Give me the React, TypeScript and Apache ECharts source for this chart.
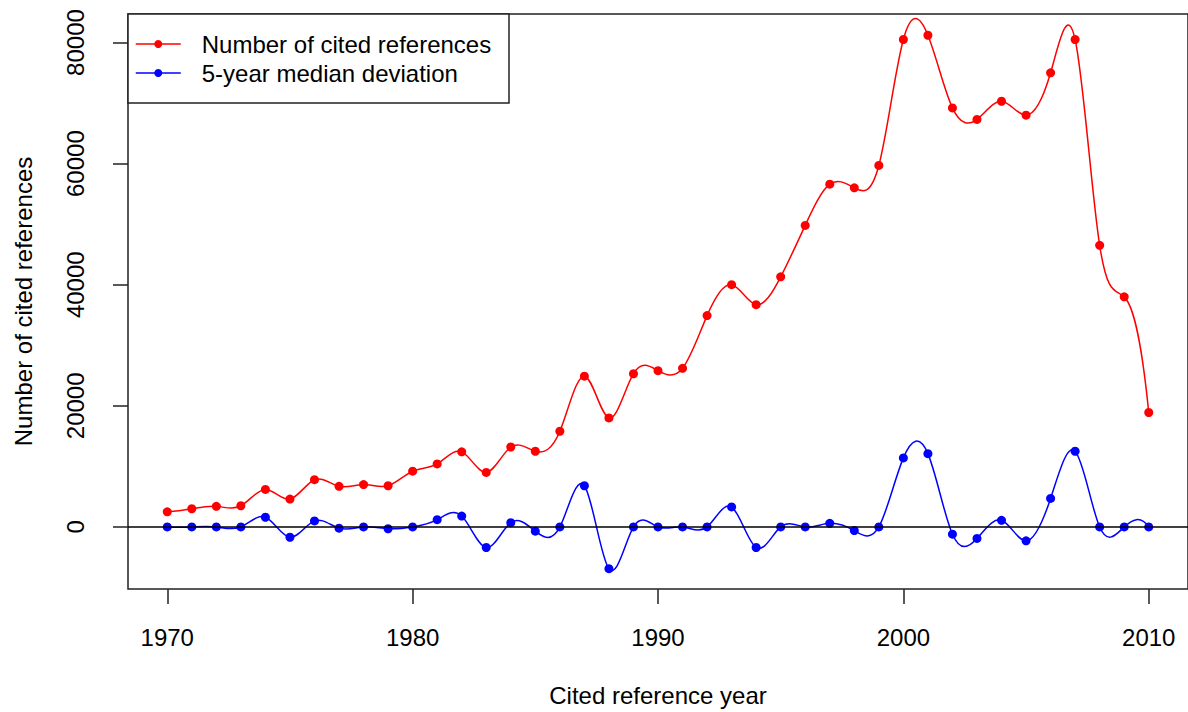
import React, { useEffect, useRef } from "react";
import * as echarts from "echarts";

const years = [
  1970, 1971, 1972, 1973, 1974, 1975, 1976, 1977, 1978, 1979,
  1980, 1981, 1982, 1983, 1984, 1985, 1986, 1987, 1988, 1989,
  1990, 1991, 1992, 1993, 1994, 1995, 1996, 1997, 1998, 1999,
  2000, 2001, 2002, 2003, 2004, 2005, 2006, 2007, 2008, 2009, 2010,
];

const citedRefs = [
  2500, 3000, 3400, 3500, 6200, 4600, 7800, 6700, 7000, 6800,
  9200, 10400, 12400, 9000, 13200, 12500, 15800, 24900, 18000, 25300,
  25800, 26200, 34900, 40000, 36700, 41300, 49800, 56600, 56000, 59700,
  80500, 81200, 69200, 67300, 70300, 68000, 75000, 80500, 46500, 38000, 18900,
];

const medianDeviation = [
  0, 0, 0, 0, 1600, -1700, 1000, -200, 0, -300,
  0, 1200, 1800, -3400, 700, -700, 0, 6800, -6900, 0,
  0, 0, 0, 3300, -3400, 0, 0, 600, -600, 0,
  11400, 12100, -1200, -1900, 1100, -2300, 4700, 12500, 0, 0, 0,
];

const xTicks = [1970, 1980, 1990, 2000, 2010];
const yTicks = [0, 20000, 40000, 60000, 80000];
const seriesNames = ["Number of cited references", "5-year median deviation"];
const seriesColors = ["#ff0000", "#0000ff"];
const xTitle = "Cited reference year";
const yTitle = "Number of cited references";

// First derivatives of an FMM cubic spline (as in R's spline()) through (x, y).
function splineSlopes(x: number[], y: number[]): number[] {
  const n = x.length;
  const nm1 = n - 1;
  const b = new Array(n).fill(0);
  const c = new Array(n).fill(0);
  const d = new Array(n).fill(0);
  d[0] = x[1] - x[0];
  c[1] = (y[1] - y[0]) / d[0];
  for (let i = 1; i < nm1; i++) {
    d[i] = x[i + 1] - x[i];
    b[i] = 2 * (d[i - 1] + d[i]);
    c[i + 1] = (y[i + 1] - y[i]) / d[i];
    c[i] = c[i + 1] - c[i];
  }
  b[0] = -d[0];
  b[nm1] = -d[n - 2];
  c[0] = 0;
  c[nm1] = 0;
  if (n > 3) {
    c[0] = c[2] / (x[3] - x[1]) - c[1] / (x[2] - x[0]);
    c[nm1] = c[n - 2] / (x[nm1] - x[n - 3]) - c[n - 3] / (x[n - 2] - x[n - 4]);
    c[0] = (c[0] * d[0] * d[0]) / (x[3] - x[0]);
    c[nm1] = (-c[nm1] * d[n - 2] * d[n - 2]) / (x[nm1] - x[n - 4]);
  }
  for (let i = 1; i <= nm1; i++) {
    const t = d[i - 1] / b[i - 1];
    b[i] = b[i] - t * d[i - 1];
    c[i] = c[i] - t * c[i - 1];
  }
  c[nm1] = c[nm1] / b[nm1];
  for (let i = n - 2; i >= 0; i--) c[i] = (c[i] - d[i] * c[i + 1]) / b[i];
  const slopes = new Array(n).fill(0);
  slopes[nm1] = (y[nm1] - y[n - 2]) / d[n - 2] + d[n - 2] * (c[n - 2] + 2 * c[nm1]);
  for (let i = 0; i < nm1; i++) {
    slopes[i] = (y[i + 1] - y[i]) / d[i] - d[i] * (c[i + 1] + 2 * c[i]);
  }
  return slopes;
}

function splineSeries(vals: number[], color: string) {
  const slopes = splineSlopes(years, vals);
  return {
    type: "custom",
    silent: true,
    z: 2,
    data: years.map((y, i) => [y, vals[i]]),
    renderItem: (params: any, api: any) => {
      const i = params.dataIndex;
      if (i >= years.length - 1) return null;
      const h = years[i + 1] - years[i];
      const p0 = api.coord([years[i], vals[i]]);
      const c1 = api.coord([years[i] + h / 3, vals[i] + (slopes[i] * h) / 3]);
      const c2 = api.coord([years[i + 1] - h / 3, vals[i + 1] - (slopes[i + 1] * h) / 3]);
      const p3 = api.coord([years[i + 1], vals[i + 1]]);
      return {
        type: "bezierCurve",
        shape: {
          x1: p0[0], y1: p0[1], x2: p3[0], y2: p3[1],
          cpx1: c1[0], cpy1: c1[1], cpx2: c2[0], cpy2: c2[1],
        },
        style: { stroke: color, fill: "none", lineWidth: 1.5 },
      };
    },
  };
}

export default function App() {
  const ref = useRef<HTMLDivElement>(null);
  useEffect(() => {
    const chart = echarts.init(ref.current as HTMLDivElement, null, { renderer: "svg" });
    const font = '"Liberation Sans", Arial, Helvetica, sans-serif';
    const axisText = { fontSize: 24, color: "#000", fontFamily: font };
    const pointSeries = (k: number, vals: number[]) => ({
      name: seriesNames[k],
      type: "line",
      z: 3,
      data: years.map((y, i) => [y, vals[i]]),
      symbol: "circle",
      symbolSize: 9,
      showSymbol: true,
      showAllSymbol: true,
      lineStyle: { color: seriesColors[k], width: 0, opacity: 0 },
      itemStyle: { color: seriesColors[k] },
    });
    chart.setOption({
      animation: false,
      backgroundColor: "#fff",
      grid: {
        left: 128,
        top: 14,
        width: 1064.4,
        height: 579,
        show: true,
        borderColor: "#222",
        borderWidth: 1.5,
        backgroundColor: "transparent",
      },
      legend: {
        data: seriesNames,
        orient: "vertical",
        left: 130,
        top: 27,
        itemWidth: 45,
        itemHeight: 10,
        itemGap: 5,
        z: 10,
        lineStyle: { width: 1.5, opacity: 1 },
        textStyle: { ...axisText, padding: [0, 0, 0, 16] },
      },
      graphic: [
        {
          type: "rect",
          z: 5,
          shape: { x: 128, y: 14, width: 381, height: 89 },
          style: { fill: "#fff", stroke: "#222", lineWidth: 1.5 },
        },
      ],
      xAxis: {
        type: "value",
        min: 1968.4,
        max: 2011.6,
        axisLine: { show: false, onZero: false },
        splitLine: { show: false },
        axisTick: {
          show: true,
          customValues: xTicks,
          length: 15,
          lineStyle: { color: "#222", width: 1.5 },
        },
        axisLabel: {
          customValues: xTicks,
          formatter: (v: number) => String(v),
          margin: 36,
          ...axisText,
        },
        name: xTitle,
        nameLocation: "middle",
        nameGap: 94,
        nameTextStyle: axisText,
      },
      yAxis: {
        type: "value",
        min: -10250,
        max: 84710,
        axisLine: { show: false, onZero: false },
        splitLine: { show: false },
        axisTick: {
          show: true,
          customValues: yTicks,
          length: 15,
          lineStyle: { color: "#222", width: 1.5 },
        },
        axisLabel: {
          customValues: yTicks,
          formatter: (v: number) => String(v),
          rotate: 90,
          margin: 41,
          ...axisText,
        },
        name: yTitle,
        nameLocation: "middle",
        nameGap: 93,
        nameTextStyle: axisText,
      },
      series: [
        splineSeries(citedRefs, seriesColors[0]),
        pointSeries(0, citedRefs),
        {
          ...splineSeries(medianDeviation, seriesColors[1]),
          markLine: {
            silent: true,
            symbol: ["none", "none"],
            label: { show: false },
            lineStyle: { color: "#000", width: 1.5, type: "solid" },
            data: [{ yAxis: 0 }],
          },
        },
        pointSeries(1, medianDeviation),
      ],
    });
    return () => chart.dispose();
  }, []);
  return (
    <div
      ref={ref}
      style={{ position: "fixed", left: 0, top: 0, width: 1188, height: 712, background: "#fff" }}
    />
  );
}
